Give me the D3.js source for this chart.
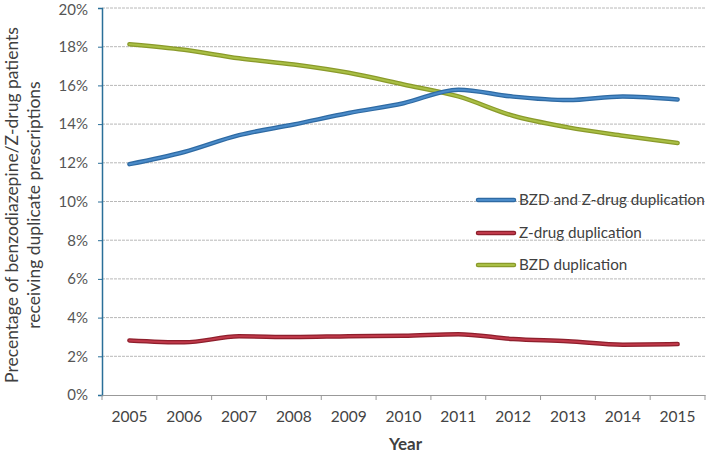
<!DOCTYPE html>
<html><head><meta charset="utf-8">
<script src="https://cdn.jsdelivr.net/npm/d3@7"></script>
<style>body{margin:0;background:#fff}svg{display:block}</style>
</head><body>
<svg id="c" width="709" height="454"></svg>
<script>
const years = ["2005","2006","2007","2008","2009","2010","2011","2012","2013","2014","2015"];
const bzdAndZ = [11.93,12.56,13.43,13.98,14.57,15.08,15.78,15.42,15.24,15.43,15.27];
const zDrug = [2.82,2.72,3.03,3.0,3.04,3.06,3.14,2.89,2.78,2.6,2.63];
const bzd = [18.13,17.84,17.4,17.08,16.65,16.05,15.43,14.43,13.83,13.4,13.02];
const yTicks = [0,2,4,6,8,10,12,14,16,18,20];
const seriesNames = ["BZD and Z-drug duplication","Z-drug duplication","BZD duplication"];
const seriesColors = [["#2e6aa3","#4a8bc9"],["#8e1f2c","#c0394a"],["#8a9a2a","#a9bf45"]];
const seriesData = [bzdAndZ, zDrug, bzd];

const svg = d3.select("#c");
const L = 102, R = 705, T = 8, B = 395;
const x = d3.scaleBand().domain(years).range([L, R]);
const y = d3.scaleLinear().domain([0, 20]).range([B, T]);
const font = "Lato, 'Open Sans', sans-serif";

// gridlines
svg.append("g").selectAll("line").data(yTicks.filter(d=>d>0)).join("line")
  .attr("x1", L).attr("x2", R).attr("y1", d=>y(d)).attr("y2", d=>y(d))
  .attr("stroke", "#b8b8b8").attr("stroke-width", 1).attr("stroke-dasharray", "3,1");

// y axis
const ya = svg.append("g").attr("transform", `translate(${L},0)`)
  .call(d3.axisLeft(y).tickValues(yTicks).tickFormat(d=>d+"%").tickSize(4).tickPadding(10));
ya.select(".domain").attr("stroke", "#2a6f99").attr("stroke-width", 1.5);
ya.selectAll(".tick line").attr("stroke", "#2a6f99");
ya.selectAll("text").attr("font-family", font).attr("font-size", 15).attr("fill", "#555");
ya.selectAll(".tick").filter(d => d === 20).select("text").attr("dy", "0.42em");

// x axis
const xa = svg.append("g").attr("transform", `translate(0,${B})`)
  .call(d3.axisBottom(x).tickSize(0).tickPadding(16));
xa.select(".domain").attr("stroke", "#999").attr("stroke-width", 1);
xa.selectAll("text").attr("font-family", font).attr("font-size", 15.5).attr("fill", "#444");
svg.append("g").selectAll("line").data(d3.range(years.length + 1)).join("line")
  .attr("x1", i => L + i * x.step()).attr("x2", i => L + i * x.step())
  .attr("y1", B).attr("y2", B + 5).attr("stroke", "#999");

// lines
const line = d3.line().x((d,i)=>x(years[i]) + x.bandwidth()/2).y(d=>y(d)).curve(d3.curveMonotoneX);
const order = [2, 0, 1];
order.forEach(k => {
  svg.append("path").attr("d", line(seriesData[k])).attr("fill","none")
    .attr("stroke", seriesColors[k][0]).attr("stroke-width", 4.5).attr("stroke-linecap","round");
  svg.append("path").attr("d", line(seriesData[k])).attr("fill","none")
    .attr("stroke", seriesColors[k][1]).attr("stroke-width", 2).attr("stroke-linecap","round");
});

// legend
const legY = [200, 233, 265];
seriesNames.forEach((n, k) => {
  svg.append("rect").attr("x", 476).attr("y", legY[k]-4).attr("width", 38).attr("height", 8).attr("fill","#fff");
  svg.append("line").attr("x1", 478).attr("x2", 514).attr("y1", legY[k]).attr("y2", legY[k])
    .attr("stroke", seriesColors[k][0]).attr("stroke-width", 4.5).attr("stroke-linecap","round");
  svg.append("line").attr("x1", 478).attr("x2", 514).attr("y1", legY[k]).attr("y2", legY[k])
    .attr("stroke", seriesColors[k][1]).attr("stroke-width", 2).attr("stroke-linecap","round");
  svg.append("text").attr("x", 519).attr("y", legY[k]).attr("dy", "0.35em")
    .attr("font-family", font).attr("font-size", 15.2).attr("fill", "#404040").text(n);
});

// axis titles
svg.append("text").attr("x", (L+R)/2 + 2).attr("y", 450).attr("text-anchor","middle")
  .attr("font-family", font).attr("font-size", 17).attr("font-weight","bold").attr("fill","#404040").text("Year");
const yt = svg.append("text").attr("transform", "translate(0,205) rotate(-90)")
  .attr("text-anchor","middle").attr("font-family", font).attr("font-size", 17.5).attr("fill","#404040");
yt.append("tspan").attr("x", 0).attr("y", 18).text("Precentage of benzodiazepine/Z-drug patients");
yt.append("tspan").attr("x", 0).attr("y", 40).text("receiving duplicate prescriptions");
</script>
</body></html>
